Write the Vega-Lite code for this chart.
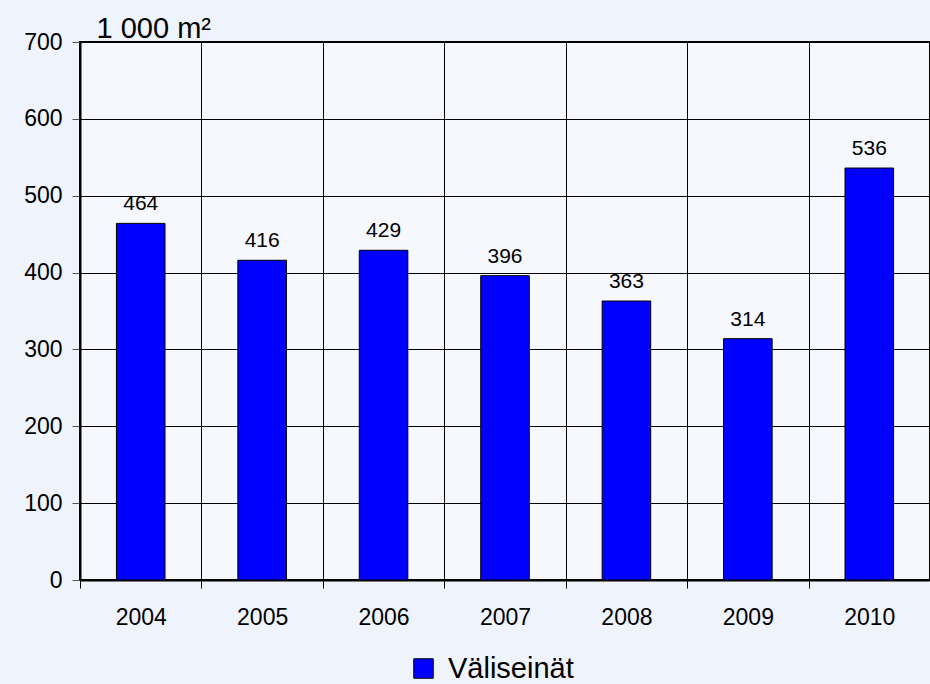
{
  "$schema": "https://vega.github.io/schema/vega-lite/v6.json",
  "width": 850,
  "height": 538,
  "autosize": {"type": "none"},
  "padding": {"left": 80, "top": 42, "right": 0, "bottom": 104},
  "background": "#eff3fc",
  "config": {
    "font": "Liberation Sans",
    "view": {"stroke": "#000000", "strokeWidth": 2, "fill": "#f6f8fe"}
  },
  "data": {
    "values": [
      {"year": "2004", "value": 464, "series": "Väliseinät"},
      {"year": "2005", "value": 416, "series": "Väliseinät"},
      {"year": "2006", "value": 429, "series": "Väliseinät"},
      {"year": "2007", "value": 396, "series": "Väliseinät"},
      {"year": "2008", "value": 363, "series": "Väliseinät"},
      {"year": "2009", "value": 314, "series": "Väliseinät"},
      {"year": "2010", "value": 536, "series": "Väliseinät"}
    ]
  },
  "encoding": {
    "x": {
      "field": "year",
      "type": "ordinal",
      "scale": {"paddingInner": 0, "paddingOuter": 0},
      "axis": {
        "title": null,
        "labelAngle": 0,
        "tickBand": "extent",
        "grid": true,
        "gridColor": "#000000",
        "gridWidth": 1,
        "gridOpacity": 1,
        "ticks": true,
        "tickSize": 8,
        "tickColor": "#000000",
        "domainColor": "#000000",
        "domainWidth": 2,
        "labelFont": "Liberation Sans",
        "labelFontSize": 23,
        "labelColor": "#000000",
        "labelBaseline": "alphabetic",
        "labelPadding": 36
      }
    },
    "y": {
      "field": "value",
      "type": "quantitative",
      "scale": {"domain": [0, 700], "nice": false},
      "axis": {
        "values": [0, 100, 200, 300, 400, 500, 600, 700],
        "grid": true,
        "gridColor": "#000000",
        "gridWidth": 1,
        "gridOpacity": 1,
        "tickSize": 8,
        "tickColor": "#555555",
        "domainColor": "#000000",
        "domainWidth": 2,
        "labelFont": "Liberation Sans",
        "labelFontSize": 23,
        "labelColor": "#000000",
        "labelPadding": 10,
        "title": "1 000 m²",
        "titleAngle": 0,
        "titleAlign": "left",
        "titleBaseline": "alphabetic",
        "titleX": 16,
        "titleY": -5,
        "titleFont": "Liberation Sans",
        "titleFontSize": 29,
        "titleFontWeight": "normal",
        "titleColor": "#000000"
      }
    }
  },
  "layer": [
    {
      "mark": {"type": "bar", "width": {"band": 0.4}, "stroke": "#000000", "strokeWidth": 1},
      "encoding": {
        "color": {
          "field": "series",
          "type": "nominal",
          "scale": {"range": ["#0000ff"]},
          "legend": {
            "title": null,
            "orient": "none",
            "legendX": 329,
            "legendY": 612,
            "padding": 0,
            "symbolType": "square",
            "symbolSize": 380,
            "symbolStrokeColor": "#000000",
            "symbolStrokeWidth": 1,
            "symbolOpacity": 1,
            "labelFont": "Liberation Sans",
            "labelFontSize": 29,
            "labelColor": "#000000",
            "labelOffset": 10
          }
        }
      }
    },
    {
      "mark": {"type": "text", "baseline": "alphabetic", "dy": -13, "fontSize": 21, "font": "Liberation Sans", "color": "#000000"},
      "encoding": {"text": {"field": "value", "type": "quantitative"}}
    }
  ]
}
